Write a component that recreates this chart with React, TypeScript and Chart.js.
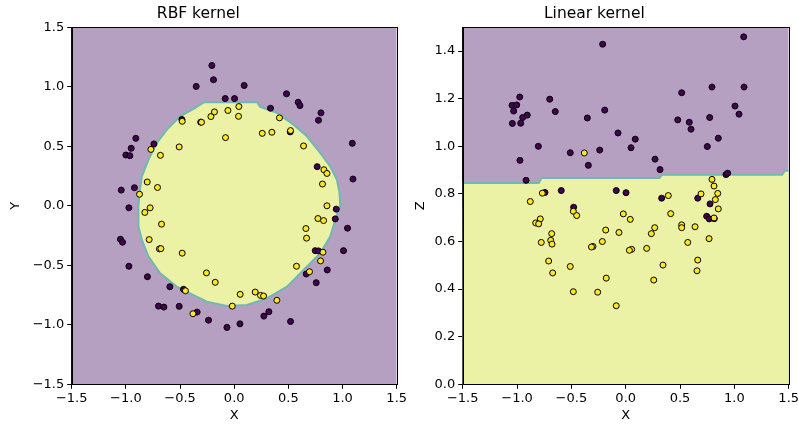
import React, { useEffect, useRef } from 'react';
import { Chart, registerables } from 'chart.js';

Chart.register(...registerables);

const FONT = 'DejaVu Sans';
const PURPLE = '#440154';
const YELLOW = '#fde725';
const REGION_LOW = 'rgb(181,160,194)';
const REGION_HIGH = 'rgb(236,242,165)';
const BAND = 'rgb(112,184,178)';

// tick values
const xyTicks = [-1.5, -1.0, -0.5, 0.0, 0.5, 1.0, 1.5];
const zTicks = [0.0, 0.2, 0.4, 0.6, 0.8, 1.0, 1.2, 1.4];

// RBF kernel panel: class 0 (purple) points
const rbfPurpleX = [-0.206, -0.191, -0.351, -0.083, 0.003, -0.483, -0.309, -0.908, -0.951, -1.0, -0.963, -0.741, -0.921, -1.043, 0.092, 0.483, 0.591, 0.607, 0.335, 0.801, 0.778, 1.090, 0.766, 1.096, 0.517, -0.972, -1.050, -1.031, -0.972, -0.801, -0.594, -0.468, -0.699, -0.649, -0.508, -0.342, -0.237, -0.067, 0.053, 0.942, 0.933, 1.046, 0.748, 0.778, 1.009, 0.665, 0.859, 0.757, 0.320, 0.274, 0.520];
const rbfPurpleY = [1.179, 1.059, 1.003, 0.901, 0.901, 0.725, 0.703, 0.567, 0.483, 0.427, 0.421, 0.520, 0.152, 0.132, 1.011, 0.941, 0.870, 0.842, 0.820, 0.781, 0.719, 0.525, 0.329, 0.225, 0.621, -0.017, -0.281, -0.306, -0.508, -0.596, -0.680, -0.702, -0.843, -0.851, -0.845, -0.893, -0.961, -1.022, -0.992, -0.028, -0.110, -0.188, -0.377, -0.379, -0.377, -0.573, -0.539, -0.646, -0.890, -0.927, -0.972];
// RBF kernel panel: class 1 (yellow) points
const rbfYellowX = [-0.480, -0.302, -0.215, -0.182, -0.058, 0.043, 0.040, -0.080, -0.508, -0.681, -0.769, -0.803, -0.708, -0.874, 0.418, 0.259, 0.348, 0.520, 0.640, 0.828, 0.856, 0.815, 0.856, -0.825, -0.776, -0.671, -0.785, -0.690, -0.677, -0.480, -0.256, -0.175, -0.450, -0.381, -0.018, 0.055, 0.773, 0.825, 0.662, 0.668, 0.819, 0.797, 0.575, 0.695, 0.194, 0.243, 0.271, 0.394];
const rbfYellowY = [0.710, 0.702, 0.750, 0.789, 0.801, 0.834, 0.752, 0.573, 0.495, 0.424, 0.474, 0.200, 0.154, 0.097, 0.739, 0.609, 0.618, 0.632, 0.503, 0.303, 0.272, 0.183, 0.000, -0.056, -0.017, -0.154, -0.284, -0.362, -0.360, -0.398, -0.564, -0.643, -0.714, -0.907, -0.843, -0.744, -0.107, -0.124, -0.191, -0.272, -0.390, -0.463, -0.508, -0.554, -0.725, -0.753, -0.758, -0.794];
// RBF decision boundary (closed)
const rbfBoundaryX = [-0.277, 0.210, 0.240, 0.394, 0.548, 0.671, 0.794, 0.886, 0.948, 0.972, 0.979, 0.948, 0.886, 0.794, 0.640, 0.487, 0.302, 0.117, -0.067, -0.252, -0.376, -0.529, -0.683, -0.791, -0.852, -0.884, -0.884, -0.874, -0.852, -0.791, -0.714, -0.621, -0.499, -0.360];
const rbfBoundaryY = [0.870, 0.870, 0.832, 0.781, 0.682, 0.584, 0.444, 0.331, 0.219, 0.107, -0.006, -0.076, -0.259, -0.398, -0.539, -0.680, -0.778, -0.834, -0.842, -0.806, -0.750, -0.680, -0.567, -0.427, -0.286, -0.174, -0.006, 0.107, 0.247, 0.388, 0.528, 0.640, 0.752, 0.823];

// Linear kernel panel: class 0 (purple) points
const linPurpleX = [-0.212, 1.086, -0.975, -1.046, -1.003, -1.031, -0.948, -0.906, -1.043, -0.966, -0.699, -0.648, -0.353, -0.193, -0.071, 0.088, 0.049, -0.804, -0.510, -0.239, -0.344, -0.973, -0.917, 0.270, 0.316, 0.515, 0.479, 0.585, 0.601, 0.794, 0.773, 0.852, 0.751, 1.089, 1.006, 1.043, 0.923, 0.938, -0.743, -0.593, -0.479, -0.087, 0.003, 0.331, 0.663, 0.776, 0.745, 0.769, 0.815];
const linPurpleZ = [1.429, 1.460, 1.207, 1.172, 1.174, 1.148, 1.121, 1.131, 1.096, 1.097, 1.198, 1.146, 1.119, 1.152, 1.056, 1.030, 0.994, 1.000, 0.973, 0.984, 0.920, 0.941, 0.857, 0.946, 0.902, 1.225, 1.111, 1.101, 1.072, 1.249, 1.121, 1.034, 0.999, 1.249, 1.169, 1.135, 0.881, 0.887, 0.806, 0.814, 0.744, 0.814, 0.805, 0.782, 0.782, 0.758, 0.706, 0.695, 0.696];
// Linear kernel panel: class 1 (yellow) points
const linYellowX = [-0.381, 0.794, 0.813, -0.767, -0.878, -0.786, -0.828, -0.801, -0.482, -0.451, -0.681, -0.690, -0.678, -0.777, -0.709, -0.672, -0.510, -0.482, -0.258, -0.179, -0.087, -0.301, -0.315, -0.215, -0.184, -0.062, -0.022, 0.042, 0.055, 0.034, 0.847, 0.825, 0.852, 0.693, 0.392, 0.414, 0.813, 0.267, 0.236, 0.515, 0.515, 0.638, 0.571, 0.767, 0.193, 0.663, 0.656, 0.343, 0.258];
const linYellowZ = [0.972, 0.861, 0.833, 0.803, 0.768, 0.695, 0.678, 0.674, 0.727, 0.709, 0.633, 0.605, 0.589, 0.596, 0.518, 0.468, 0.495, 0.389, 0.387, 0.446, 0.330, 0.579, 0.577, 0.600, 0.648, 0.638, 0.716, 0.693, 0.567, 0.563, 0.802, 0.776, 0.737, 0.800, 0.793, 0.717, 0.699, 0.658, 0.633, 0.670, 0.658, 0.662, 0.596, 0.612, 0.571, 0.522, 0.477, 0.501, 0.438];
// Linear decision boundary (upper edge of class-1 region)
const linBoundaryX = [-1.5, -0.80, -0.775, 0.31, 0.335, 1.44, 1.465, 1.5];
const linBoundaryZ = [0.846, 0.846, 0.867, 0.867, 0.880, 0.880, 0.897, 0.897];

const fmt = (v: number) => Number(v).toFixed(1).replace('-', '\u2212');
const pts = (xs: number[], ys: number[]) => xs.map((x, i) => ({ x, y: ys[i] }));

function regionPlugin(drawHigh: (ctx: CanvasRenderingContext2D, sx: any, sy: any) => void) {
  return {
    id: 'region',
    beforeDatasetsDraw(chart: any) {
      const { ctx, chartArea: a, scales } = chart;
      ctx.save();
      ctx.beginPath();
      ctx.rect(a.left, a.top, a.right - a.left, a.bottom - a.top);
      ctx.clip();
      ctx.fillStyle = REGION_LOW;
      ctx.fillRect(a.left, a.top, a.right - a.left, a.bottom - a.top);
      drawHigh(ctx, scales.x, scales.y);
      ctx.restore();
    },
    afterDraw(chart: any) {
      const { ctx, chartArea: a } = chart;
      ctx.save();
      ctx.strokeStyle = '#000';
      ctx.lineWidth = 1;
      ctx.strokeRect(Math.round(a.left) + 0.5, Math.round(a.top) + 0.5, Math.round(a.right - a.left), Math.round(a.bottom - a.top));
      ctx.restore();
    },
  };
}

const drawRbf = (ctx: CanvasRenderingContext2D, sx: any, sy: any) => {
  ctx.beginPath();
  rbfBoundaryX.forEach((x, i) => {
    const px = sx.getPixelForValue(x);
    const py = sy.getPixelForValue(rbfBoundaryY[i]);
    if (i === 0) ctx.moveTo(px, py); else ctx.lineTo(px, py);
  });
  ctx.closePath();
  ctx.fillStyle = REGION_HIGH;
  ctx.fill();
  ctx.strokeStyle = BAND;
  ctx.lineWidth = 2;
  ctx.stroke();
};

const drawLin = (ctx: CanvasRenderingContext2D, sx: any, sy: any) => {
  ctx.beginPath();
  linBoundaryX.forEach((x, i) => {
    const px = sx.getPixelForValue(x);
    const py = sy.getPixelForValue(linBoundaryZ[i]);
    if (i === 0) ctx.moveTo(px, py); else ctx.lineTo(px, py);
  });
  const lastX = sx.getPixelForValue(linBoundaryX[linBoundaryX.length - 1]);
  const firstX = sx.getPixelForValue(linBoundaryX[0]);
  const base = sy.getPixelForValue(0);
  ctx.lineTo(lastX + 2, base + 2);
  ctx.lineTo(firstX - 2, base + 2);
  ctx.closePath();
  ctx.fillStyle = REGION_HIGH;
  ctx.fill();
  ctx.beginPath();
  linBoundaryX.forEach((x, i) => {
    const px = sx.getPixelForValue(x);
    const py = sy.getPixelForValue(linBoundaryZ[i]);
    if (i === 0) ctx.moveTo(px, py); else ctx.lineTo(px, py);
  });
  ctx.strokeStyle = BAND;
  ctx.lineWidth = 2;
  ctx.stroke();
};

interface PanelProps {
  title: string;
  yTitle: string;
  purpleX: number[];
  purpleY: number[];
  yellowX: number[];
  yellowY: number[];
  yMin: number;
  yMax: number;
  yTickVals: number[];
  yAxisWidth: number;
  yTitlePad: number;
  rightPad: number;
  draw: (ctx: CanvasRenderingContext2D, sx: any, sy: any) => void;
  left: number;
}

function Panel(p: PanelProps) {
  const ref = useRef<HTMLCanvasElement | null>(null);
  useEffect(() => {
    if (!ref.current) return;
    const tickFont = { family: FONT, size: 13 };
    const chart = new Chart(ref.current, {
      type: 'scatter',
      data: {
        datasets: [
          {
            data: pts(p.yellowX, p.yellowY),
            backgroundColor: YELLOW,
            borderColor: '#000',
            borderWidth: 1,
            pointRadius: 3,
          },
          {
            data: pts(p.purpleX, p.purpleY),
            backgroundColor: PURPLE,
            borderColor: '#000',
            borderWidth: 1,
            pointRadius: 3,
          },
        ],
      },
      options: {
        responsive: false,
        animation: false,
        events: [],
        layout: { padding: { left: 0, right: p.rightPad, top: 0, bottom: 0 } },
        plugins: {
          legend: { display: false },
          tooltip: { enabled: false },
          title: {
            display: true,
            text: p.title,
            color: '#000',
            font: { family: FONT, size: 15.5, weight: 'normal' },
            padding: { top: 4.7, bottom: 4 },
          },
        },
        scales: {
          x: {
            type: 'linear',
            min: -1.5,
            max: 1.5,
            afterBuildTicks: (s: any) => { s.ticks = xyTicks.map((v) => ({ value: v })); },
            afterFit: (s: any) => { s.height = 39.7; },
            ticks: { callback: (v: any) => fmt(v), font: tickFont, color: '#000', padding: 2, maxRotation: 0, autoSkip: false },
            grid: { drawOnChartArea: false, drawTicks: true, tickLength: 4.5, tickColor: '#000', tickWidth: 1 },
            border: { display: true, color: '#000', width: 1 },
            title: { display: true, text: 'X', color: '#000', font: tickFont, padding: { top: 0, bottom: 0.5 } },
          },
          y: {
            type: 'linear',
            min: p.yMin,
            max: p.yMax,
            afterBuildTicks: (s: any) => { s.ticks = p.yTickVals.map((v) => ({ value: v })); },
            afterFit: (s: any) => { s.width = p.yAxisWidth; },
            ticks: { callback: (v: any) => fmt(v), font: tickFont, color: '#000', padding: 3, autoSkip: false },
            grid: { drawOnChartArea: false, drawTicks: true, tickLength: 4.5, tickColor: '#000', tickWidth: 1 },
            border: { display: true, color: '#000', width: 1 },
            title: { display: true, text: p.yTitle, color: '#000', font: tickFont, padding: { top: p.yTitlePad, bottom: 0 } },
          },
        },
      },
      plugins: [regionPlugin(p.draw)],
    } as any);
    return () => chart.destroy();
  }, []);
  return (
    <canvas
      ref={ref}
      width={420}
      height={424}
      style={{ position: 'absolute', left: p.left, top: 0, width: 420, height: 424 }}
    />
  );
}

export default function App() {
  return (
    <div style={{ position: 'fixed', left: 0, top: 0, width: 798, height: 424, overflow: 'hidden', background: '#fff' }}>
      <Panel
        title="RBF kernel"
        yTitle="Y"
        purpleX={rbfPurpleX}
        purpleY={rbfPurpleY}
        yellowX={rbfYellowX}
        yellowY={rbfYellowY}
        yMin={-1.5}
        yMax={1.5}
        yTickVals={xyTicks}
        yAxisWidth={71.7}
        yTitlePad={8.2}
        rightPad={23.3}
        draw={drawRbf}
        left={0}
      />
      <Panel
        title="Linear kernel"
        yTitle="Z"
        purpleX={linPurpleX}
        purpleY={linPurpleZ}
        yellowX={linYellowX}
        yellowY={linYellowZ}
        yMin={0}
        yMax={1.5}
        yTickVals={zTicks}
        yAxisWidth={62.7}
        yTitlePad={13.2}
        rightPad={31.3}
        draw={drawLin}
        left={400}
      />
    </div>
  );
}
